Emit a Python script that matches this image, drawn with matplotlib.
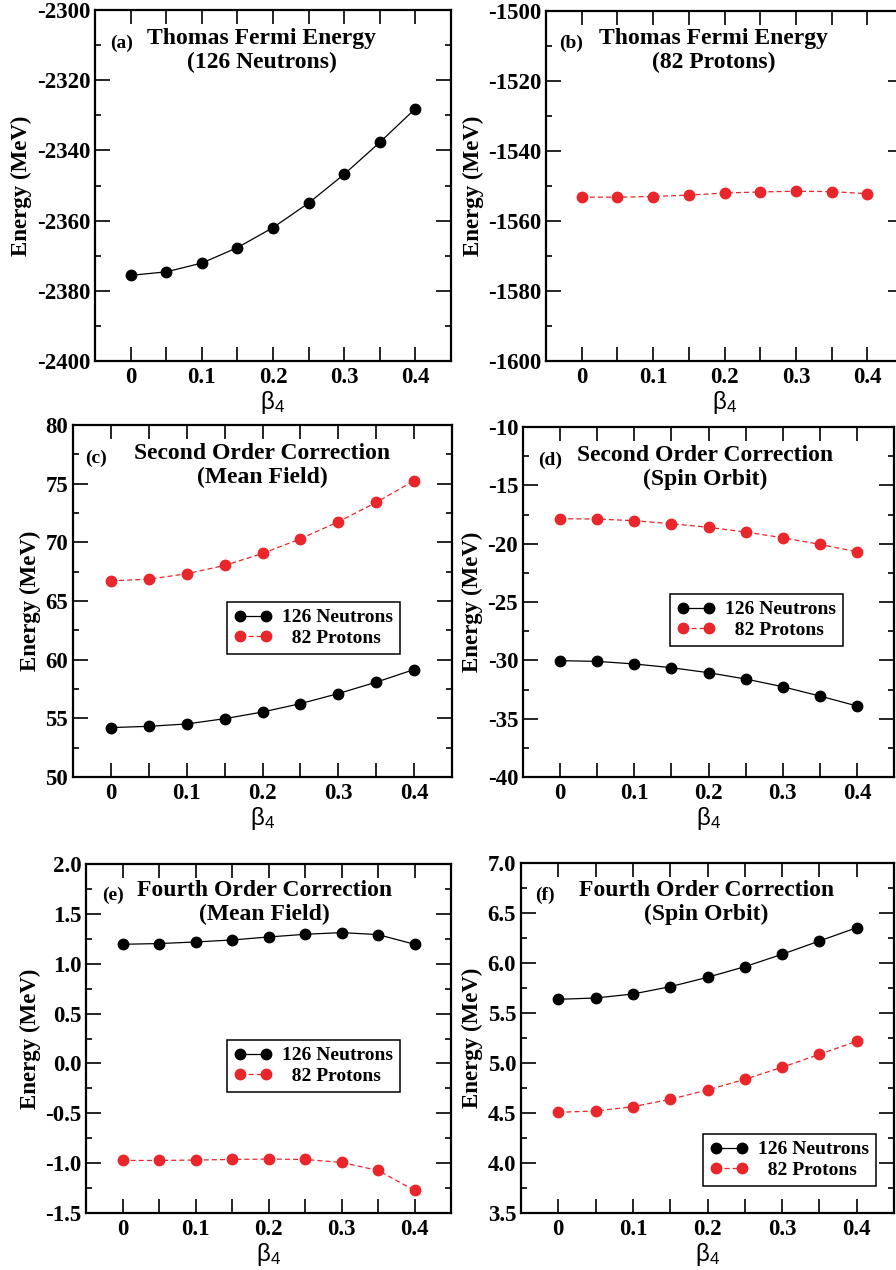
import matplotlib
matplotlib.use("Agg")
import matplotlib.pyplot as plt
from matplotlib.ticker import MultipleLocator, FixedLocator, FixedFormatter, FormatStrFormatter
from matplotlib.transforms import offset_copy

plt.rcParams["font.family"] = "Liberation Serif"
plt.rcParams["font.weight"] = "bold"
plt.rcParams["axes.unicode_minus"] = False

beta4 = [0, 0.05, 0.1, 0.15, 0.2, 0.25, 0.3, 0.35, 0.4]

# (a) Thomas Fermi, neutrons
tf_neutrons = [-2375.6, -2374.6, -2372.1, -2367.7, -2362.0, -2355.0, -2346.8, -2337.7, -2328.1]
# (b) Thomas Fermi, protons
tf_protons = [-1553.2, -1553.2, -1553.0, -1552.6, -1552.0, -1551.7, -1551.5, -1551.6, -1552.2]
# (c) second order, mean field
so_mf_neutrons = [54.21, 54.32, 54.52, 54.97, 55.54, 56.25, 57.11, 58.08, 59.16]
so_mf_protons = [66.72, 66.86, 67.32, 68.03, 69.05, 70.30, 71.75, 73.40, 75.25]
# (d) second order, spin orbit
so_so_neutrons = [-30.03, -30.09, -30.31, -30.63, -31.06, -31.60, -32.26, -33.06, -33.91]
so_so_protons = [-17.86, -17.89, -18.03, -18.29, -18.60, -19.00, -19.49, -20.06, -20.69]
# (e) fourth order, mean field
fo_mf_neutrons = [1.195, 1.202, 1.218, 1.238, 1.268, 1.295, 1.312, 1.292, 1.195]
fo_mf_protons = [-0.973, -0.973, -0.969, -0.963, -0.959, -0.963, -0.993, -1.073, -1.273]
# (f) fourth order, spin orbit
fo_so_neutrons = [5.637, 5.650, 5.690, 5.763, 5.857, 5.963, 6.087, 6.220, 6.353]
fo_so_protons = [4.507, 4.520, 4.563, 4.637, 4.730, 4.837, 4.957, 5.087, 5.217]

x_ticks = [0, 0.1, 0.2, 0.3, 0.4]
x_ticklabels = ["0", "0.1", "0.2", "0.3", "0.4"]

RED = "#e8262b"
W, H = 896, 1270

fig = plt.figure(figsize=(W / 100, H / 100), dpi=100)


def make_axes(left, right, top, bottom):
    return fig.add_axes([left / W, 1 - bottom / H, (right - left) / W, (bottom - top) / H])


def style(ax, ylim, ymajor, yminor, yfmt=None):
    ax.set_xlim(-0.05, 0.45)
    ax.set_ylim(*ylim)
    ax.xaxis.set_major_locator(FixedLocator(x_ticks))
    ax.xaxis.set_major_formatter(FixedFormatter(x_ticklabels))
    ax.xaxis.set_minor_locator(MultipleLocator(0.05))
    ax.yaxis.set_major_locator(MultipleLocator(ymajor))
    ax.yaxis.set_minor_locator(MultipleLocator(yminor))
    if yfmt:
        ax.yaxis.set_major_formatter(FormatStrFormatter(yfmt))
    ax.tick_params(axis="both", which="both", direction="in", top=True, right=True,
                   labelsize=16.5, width=1.2)
    ax.tick_params(axis="x", which="both", length=10, pad=4)
    ax.tick_params(axis="y", which="major", length=10.5, pad=3.5)
    ax.tick_params(axis="y", which="minor", length=4.5)
    for sp in ax.spines.values():
        sp.set_linewidth(1.6)
    ax.set_ylabel("Energy (MeV)", fontsize=16.5, fontweight="bold", labelpad=3)
    ax.set_xlabel(r"$\mathregular{\beta_4}$", fontsize=17.5, fontweight="normal",
                  fontfamily="Liberation Sans", labelpad=1)


def titles(ax, tag, tag_x, line1, line2, cx, top_off):
    tr1 = offset_copy(ax.transAxes, fig=fig, y=-top_off, units="dots")
    tr2 = offset_copy(ax.transAxes, fig=fig, y=-(top_off + 24), units="dots")
    tr3 = offset_copy(ax.transAxes, fig=fig, y=-(top_off + 4), units="dots")
    ax.text(cx, 1.0, line1, transform=tr1, ha="center", va="baseline", fontsize=17, fontweight="bold")
    ax.text(cx, 1.0, line2, transform=tr2, ha="center", va="baseline", fontsize=17, fontweight="bold")
    ax.text(tag_x, 1.0, tag, transform=tr3, ha="left", va="baseline", fontsize=14, fontweight="bold")


def draw_pair(ax, neutrons, protons):
    ax.plot(beta4, neutrons, "-o", color="black", lw=0.9, ms=7.5, label="126 Neutrons")
    ax.plot(beta4, protons, "--o", color=RED, lw=0.9, ms=7.5, dashes=(4, 2.5), label="  82 Protons")


def legend(ax, left, top):
    leg = ax.legend(loc="upper left", bbox_to_anchor=(left / W, 1 - top / H),
                    bbox_transform=fig.transFigure, borderaxespad=0,
                    prop={"family": "Liberation Serif", "weight": "bold", "size": 14},
                    numpoints=2, handlelength=1.95, handletextpad=0.55, labelspacing=0.15,
                    borderpad=0.35, fancybox=False, framealpha=1, edgecolor="black")
    leg.get_frame().set_linewidth(1.1)


# (a)
ax = make_axes(95, 451, 10, 361)
ax.plot(beta4, tf_neutrons, "-o", color="black", lw=0.9, ms=7.5)
style(ax, (-2400, -2300), 20, 10)
titles(ax, "(a)", 0.042, "Thomas Fermi Energy", "(126 Neutrons)", 0.469, 34)

# (b)
ax = make_axes(546, 903, 11, 361)
ax.plot(beta4, tf_protons, "--o", color=RED, lw=0.9, ms=7.5, dashes=(4, 2.5))
style(ax, (-1600, -1500), 20, 10)
titles(ax, "(b)", 0.036, "Thomas Fermi Energy", "(82 Protons)", 0.47, 33)

# (c)
ax = make_axes(73, 452, 425, 777)
draw_pair(ax, so_mf_neutrons, so_mf_protons)
style(ax, (50, 80), 5, 2.5)
titles(ax, "(c)", 0.032, "Second Order Correction", "(Mean Field)", 0.50, 34)
legend(ax, 227, 602)

# (d)
ax = make_axes(523, 894, 427, 777)
draw_pair(ax, so_so_neutrons, so_so_protons)
style(ax, (-40, -10), 5, 2.5)
titles(ax, "(d)", 0.04, "Second Order Correction", "(Spin Orbit)", 0.49, 34)
legend(ax, 670, 594)

# (e)
ax = make_axes(86, 451, 864, 1213)
draw_pair(ax, fo_mf_neutrons, fo_mf_protons)
style(ax, (-1.5, 2.0), 0.5, 0.25, "%.1f")
titles(ax, "(e)", 0.044, "Fourth Order Correction", "(Mean Field)", 0.488, 32)
legend(ax, 227, 1040)

# (f)
ax = make_axes(521, 894, 863, 1213)
draw_pair(ax, fo_so_neutrons, fo_so_protons)
style(ax, (3.5, 7.0), 0.5, 0.25, "%.1f")
titles(ax, "(f)", 0.038, "Fourth Order Correction", "(Spin Orbit)", 0.497, 33)
legend(ax, 703, 1134)

fig.savefig("out.png", dpi=100)
